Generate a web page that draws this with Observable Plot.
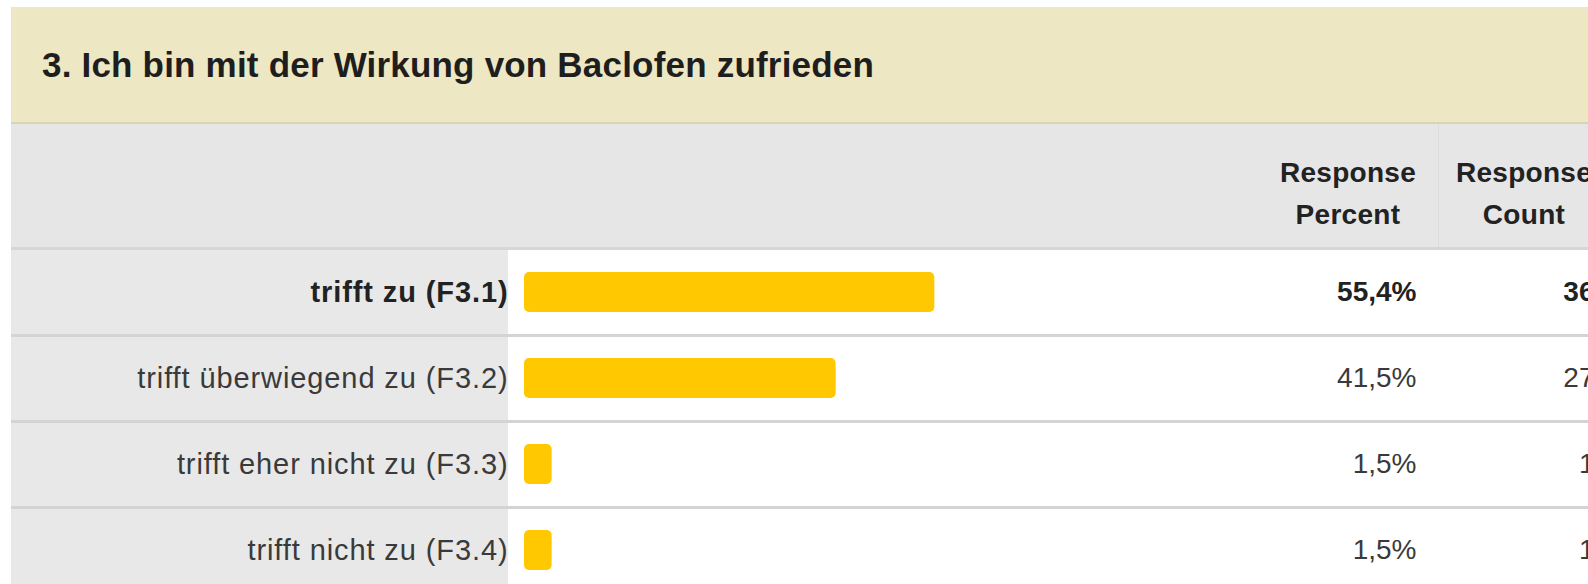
<!DOCTYPE html>
<html>
<head>
<meta charset="utf-8">
<script src="https://cdn.jsdelivr.net/npm/d3@7"></script>
<script src="https://cdn.jsdelivr.net/npm/@observablehq/plot@0.6"></script>
<style>
  html, body { margin: 0; padding: 0; background: #fff; width: 1588px; height: 584px; overflow: hidden; font-family: "Liberation Sans", Arial, Helvetica, sans-serif; }
  #title { position: absolute; left: 11px; top: 7px; width: 1577px; height: 115px; background: #ede7c3; border-bottom: 2px solid #d9d4b6; }
  #title span { position: absolute; left: 31px; top: 38px; font-size: 35px; font-weight: bold; color: #1e1e1e; white-space: nowrap; line-height: 40px; letter-spacing: 0.2px; }
  #head { position: absolute; left: 11px; top: 124px; width: 1577px; height: 123px; background: #e6e6e6; border-bottom: 3px solid #d6d6d6; }
  #head .col { position: absolute; top: 28px; width: 200px; text-align: center; font-size: 28px; font-weight: bold; line-height: 42px; color: #222; letter-spacing: 0.3px; }
  #head .vsep { position: absolute; left: 1427px; top: 0; width: 1px; height: 123px; background: #dcdcdc; }
  #labelcol { position: absolute; left: 11px; top: 250px; width: 497px; height: 334px; background: #e8e8e8; }
  #chart { position: absolute; left: 0; top: 249px; }
  #chart .lbl, #chart .lbl text { letter-spacing: 0.9px; }
</style>
</head>
<body>
<div id="title"><span id="titletext"></span></div>
<div id="head"><div class="vsep"></div></div>
<div id="labelcol"></div>
<div id="chart"></div>
<script>
const title = "3. Ich bin mit der Wirkung von Baclofen zufrieden";
const columnHeaders = [["Response", "Percent"], ["Response", "Count"]];
const categories = [
  "trifft zu (F3.1)",
  "trifft überwiegend zu (F3.2)",
  "trifft eher nicht zu (F3.3)",
  "trifft nicht zu (F3.4)"
];
const percents = [55.4, 41.5, 1.5, 1.5];
const counts = [36, 27, 1, 1];

document.getElementById("titletext").textContent = title;
const head = document.getElementById("head");
const colCenters = [1337, 1513];
columnHeaders.forEach((lines, i) => {
  const d = document.createElement("div");
  d.className = "col";
  d.style.left = (colCenters[i] - 100) + "px";
  d.innerHTML = lines.join("<br>");
  head.appendChild(d);
});

const data = categories.map((label, i) => ({
  label,
  pct: percents[i],
  count: counts[i],
  pctText: percents[i].toLocaleString("de-DE", {minimumFractionDigits: 1, maximumFractionDigits: 1}) + "%"
}));

const chart = Plot.plot({
  width: 1588,
  height: 335,
  marginLeft: 11,
  marginRight: 0,
  marginTop: 0,
  marginBottom: 0,
  style: {background: "transparent", fontFamily: "Liberation Sans, Arial, sans-serif"},
  x: {domain: [0, 100], range: [541, 1251], axis: null},
  y: {domain: categories, range: [0, 344], padding: 0, axis: null},
  marks: [
    Plot.ruleY(categories.slice(1), {y: d => d, dy: -43, stroke: "#d4d4d4", strokeWidth: 3}),
    Plot.barX(data, {x: "pct", y: "label", fill: "#ffc800", insetTop: 23, insetBottom: 23, insetLeft: -17, rx: 5}),
    Plot.text(data.slice(0, 1), {x: 0, y: "label", text: "label", textAnchor: "end", dx: -33, fontSize: 29, fontWeight: "bold", fill: "#222", className: "lbl"}),
    Plot.text(data.slice(1), {x: 0, y: "label", text: "label", textAnchor: "end", dx: -33, fontSize: 29, fill: "#3a3a3a", className: "lbl"}),
    Plot.text(data.slice(0, 1), {y: "label", text: "pctText", frameAnchor: "right", textAnchor: "end", dx: -172, fontSize: 28, fontWeight: "bold", fill: "#222"}),
    Plot.text(data.slice(1), {y: "label", text: "pctText", frameAnchor: "right", textAnchor: "end", dx: -172, fontSize: 28, fill: "#3a3a3a"}),
    Plot.text(data.slice(0, 1), {y: "label", text: d => String(d.count), frameAnchor: "right", textAnchor: "end", dx: 6, fontSize: 28, fontWeight: "bold", fill: "#222"}),
    Plot.text(data.slice(1), {y: "label", text: d => String(d.count), frameAnchor: "right", textAnchor: "end", dx: 6, fontSize: 28, fill: "#3a3a3a"})
  ]
});
document.getElementById("chart").appendChild(chart);
</script>
</body>
</html>
